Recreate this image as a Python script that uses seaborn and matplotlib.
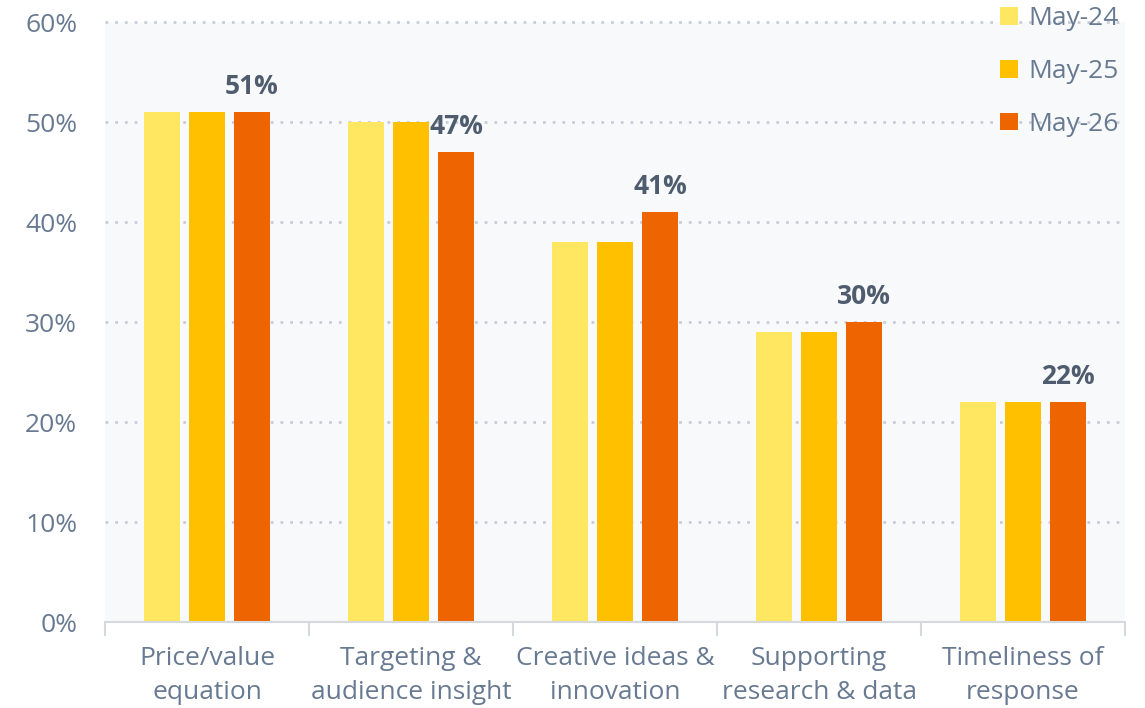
import matplotlib
matplotlib.use("Agg")
import matplotlib.pyplot as plt
from matplotlib.patches import Patch
import seaborn as sns
import pandas as pd

categories = [
    "Price/value\nequation",
    "Targeting &\naudience insight",
    "Creative ideas &\ninnovation",
    "Supporting\nresearch & data",
    "Timeliness of\nresponse",
]
periods = ["May-24", "May-25", "May-26"]
may24 = [0.51, 0.50, 0.38, 0.29, 0.22]
may25 = [0.51, 0.50, 0.38, 0.29, 0.22]
may26 = [0.51, 0.47, 0.41, 0.30, 0.22]
yticks = [0.0, 0.1, 0.2, 0.3, 0.4, 0.5, 0.6]
colors = ["#FFE761", "#FFC000", "#EE6500"]

df = pd.DataFrame({
    "category": categories * 3,
    "period": [p for p in periods for _ in categories],
    "share": may24 + may25 + may26,
})

sns.set_theme(style="white")
plt.rcParams["font.family"] = ["Open Sans", "DejaVu Sans"]

text_col = "#687a92"
label_col = "#4f5c6e"
fs = 19

fig = plt.figure(figsize=(11.45, 7.08), dpi=100)
ax = fig.add_axes([105 / 1145, 1 - 622 / 708, 1020 / 1145, 600 / 708])
ax.set_facecolor("#f8f9fa")

sns.barplot(
    data=df, x="category", y="share", hue="period",
    hue_order=periods, order=categories, palette=colors, saturation=1,
    width=0.662, gap=0.2, linewidth=0, ax=ax, legend=False, zorder=3,
)

# Value labels above the May-26 bars
for bar, v in zip(ax.containers[2], may26):
    x = bar.get_x() + bar.get_width() / 2
    ax.text(x, v + 0.026, f"{v:.0%}", ha="center", va="center",
            fontsize=fs, fontweight="bold", color=label_col, zorder=4)

ax.set_ylim(0, 0.6)
ax.set_xlim(-0.5, len(categories) - 0.5)
ax.set_yticks(yticks)
ax.set_yticklabels([f"{t:.0%}" for t in yticks])
ax.set_xlabel("")
ax.set_ylabel("")

for t in yticks[1:]:
    ax.axhline(t, color="#c9cdd9", linewidth=2, linestyle=(0, (1, 2.5)),
               zorder=1, clip_on=False)

for s in ["top", "right", "left"]:
    ax.spines[s].set_visible(False)
ax.spines["bottom"].set_color("#d4d8df")
ax.spines["bottom"].set_linewidth(1.5)
ax.spines["bottom"].set_zorder(5)

ax.set_xticks([i - 0.5 for i in range(len(categories) + 1)], minor=True)
ax.tick_params(axis="x", which="minor", length=10, width=1.5, color="#d4d8df",
               bottom=True)
ax.tick_params(axis="x", which="major", length=0, pad=17, labelsize=fs,
               labelcolor=text_col)
ax.tick_params(axis="y", length=0, pad=20, labelsize=fs, labelcolor=text_col)
for lab in ax.get_xticklabels():
    lab.set_linespacing(1.5)

handles = [Patch(facecolor=c, edgecolor="none") for c in colors]
fig.legend(handles, periods, loc="upper right",
           bbox_to_anchor=(1137 / 1145, 1 + 12 / 708), frameon=False,
           fontsize=fs, labelcolor=text_col, handlelength=0.65,
           handleheight=0.65, handletextpad=0.4, labelspacing=1.05,
           borderpad=0.2)

fig.savefig("out.png", dpi=100)
